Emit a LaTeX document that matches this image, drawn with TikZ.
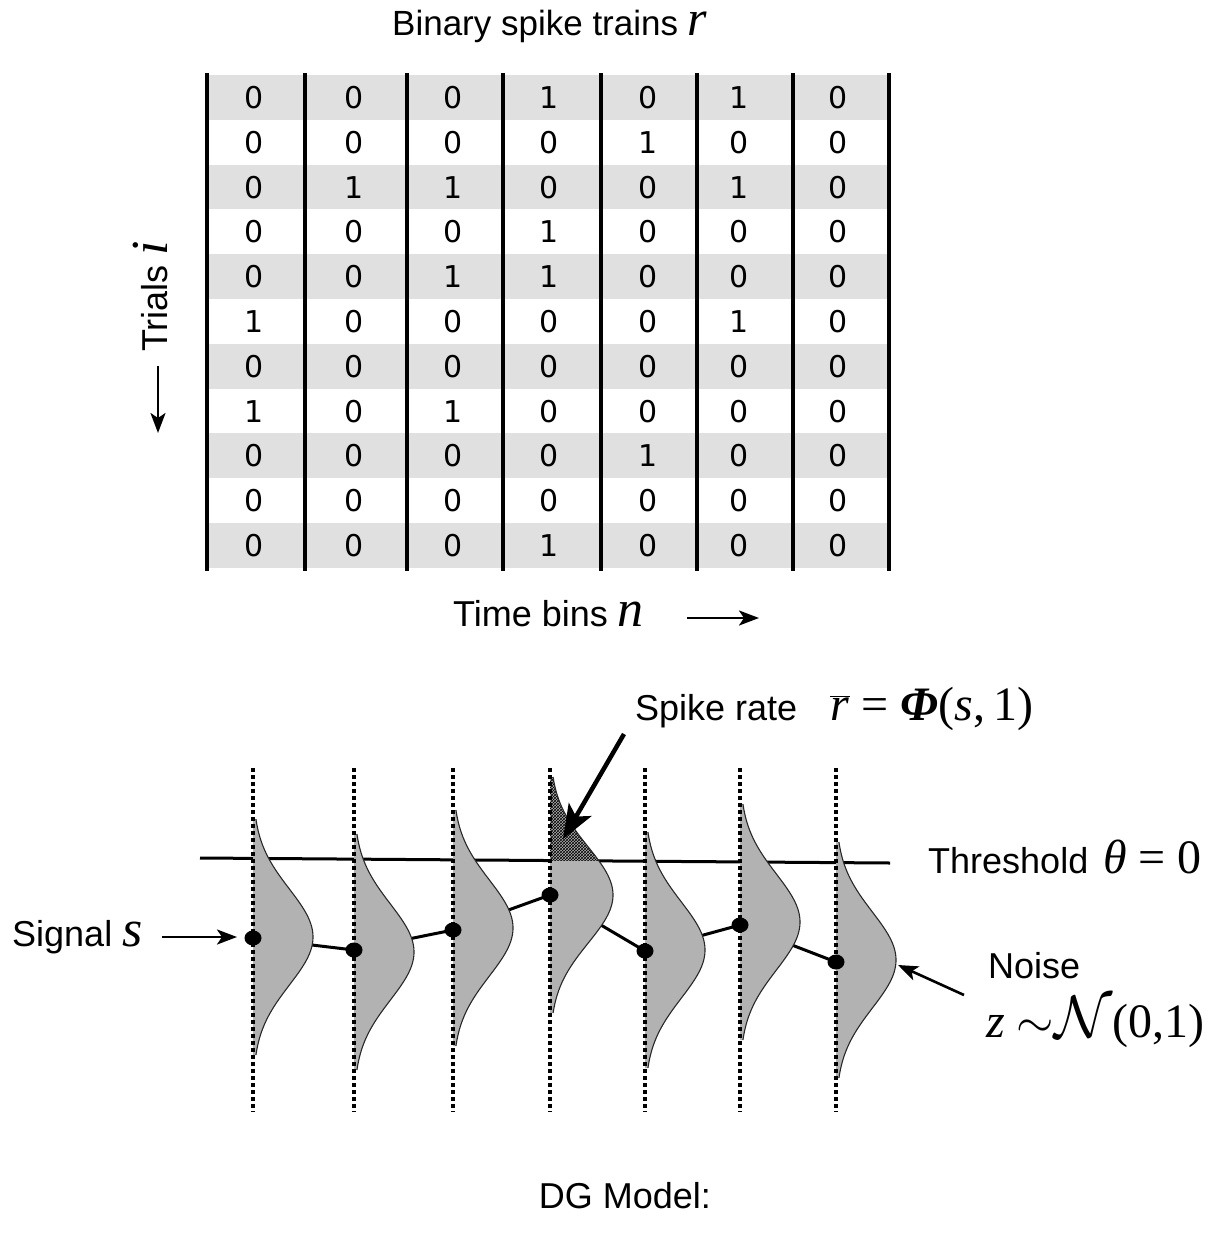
\RequirePackage{fix-cm}
\documentclass[tikz,border=0pt]{standalone}
\usepackage{fontspec}
\setmainfont{Liberation Sans}
\newfontfamily\serif{Liberation Serif}
\newfontfamily\dig{DejaVu Sans}
\usetikzlibrary{patterns,arrows.meta}
\definecolor{rowgray}{RGB}{224,224,224}
\definecolor{gfill}{RGB}{178,178,178}
\definecolor{gline}{RGB}{40,40,40}
\begin{document}
\begin{tikzpicture}[x=1pt,y=-1pt,
  lab/.style={font=\fontsize{36}{42}\selectfont, inner sep=0pt},
  mth/.style={font=\serif\fontsize{48}{54}\selectfont, inner sep=0pt},
  digit/.style={font=\dig\fontsize{30}{34}\selectfont, inner sep=0pt},
  tabline/.style={line width=3.5pt},
  dotline/.style={line width=3.5pt, dash pattern=on 3.5pt off 3.5pt},
  sigline/.style={line width=3pt},
  sigdot/.style={fill=black},
  thr/.style={line width=3pt},
  gcurve/.style={draw=gline, line width=1.1pt},
  arr/.style={line width=2.6pt, -{Stealth[length=20pt,width=15pt,inset=5pt]}},
  bigarr/.style={line width=4.5pt, -{Stealth[length=34pt,width=26pt,inset=8pt]}}]
\useasboundingbox (0,0) rectangle (1227,1239);

% ---------------- table ----------------
\foreach \k in {1,3,5,7,9,11}
  \fill[rowgray] (207,{75+44.8*(\k-1)}) rectangle (889,{75+44.8*\k});
\foreach \row [count=\r] in {{0,0,0,1,0,1,0},{0,0,0,0,1,0,0},{0,1,1,0,0,1,0},{0,0,0,1,0,0,0},{0,0,1,1,0,0,0},{1,0,0,0,0,1,0},{0,0,0,0,0,0,0},{1,0,1,0,0,0,0},{0,0,0,0,1,0,0},{0,0,0,0,0,0,0},{0,0,0,1,0,0,0}}{
  \foreach \v [count=\c] in \row {
    \pgfmathsetmacro\xx{{254,354,453,549,648,739,838}[\c-1]}
    \node[digit] (d\r-\c) at (\xx,{97.5+44.8*(\r-1)}) {\v};
  }
}
\foreach \tx in {207,305,407,503,601,697,793,889}
  \draw[tabline] (\tx,73) -- (\tx,571);

% ---------------- top labels ----------------
\node[lab, anchor=base west, font=\fontsize{35}{40}\selectfont] (title) at (392,36) {Binary spike trains \smash{\serif\itshape\fontsize{50}{52}\selectfont r}};
\node[lab, rotate=90, anchor=base west] (trials) at (167,352) {Trials {\serif\itshape\fontsize{52}{54}\selectfont i}};
\coordinate (ta) at (158,366);
\coordinate (tb) at (158,433);
\draw[arr] (ta) -- (tb);
\node[lab, anchor=base west] (time) at (453,626) {Time bins {\serif\itshape\fontsize{52}{54}\selectfont n}};
\coordinate (na) at (687,618);
\coordinate (nb) at (759,618);
\draw[arr] (na) -- (nb);

% ---------------- DG model ----------------
\draw[thr] (200,858) -- (890,863);
\foreach \px/\py [count=\i] in {253/938,354/950,453/930,550/895,645/951,740/925,836/962}
  \coordinate (s\i) at (\px,\py);
\draw[sigline] (s1) -- (s2) -- (s3) -- (s4) -- (s5) -- (s6) -- (s7);
% gaussians
\foreach \gx/\gc/\ga in {253/937/60,354/952/60,453/928/60,550/895/63,645/950/60,740/922/60,836/960/60}{
  \fill[gfill] (\gx,\gc-118) -- plot[domain=-118:118,samples=90,smooth] ({\gx+\ga*exp(-((\x/48)^2)/2)},{\gc+\x}) -- (\gx,\gc+118) -- cycle;
}
% hatched part above threshold
\begin{scope}
  \clip (545,760) rectangle (640,860.5);
  \fill[pattern=crosshatch, pattern color=black] (550,777) -- plot[domain=-118:118,samples=90,smooth] ({550+63*exp(-((\x/48)^2)/2)},{895+\x}) -- (550,1013) -- cycle;
\end{scope}
\foreach \gx/\gc/\ga in {253/937/60,354/952/60,453/928/60,550/895/63,645/950/60,740/922/60,836/960/60}{
  \draw[gcurve] plot[domain=-118:118,samples=90,smooth] ({\gx+\ga*exp(-((\x/48)^2)/2)},{\gc+\x});
}
% dotted verticals
\foreach \px [count=\i] in {253,354,453,550,645,740,836}{
  \coordinate (vt\i) at (\px,768);
  \coordinate (vb\i) at (\px,1112);
  \draw[dotline] (vt\i) -- (vb\i);
}
% signal dots
\foreach \i in {1,...,7}
  \fill[sigdot] (s\i) ellipse [x radius=8.5pt, y radius=7.5pt];

% labels
\node[lab, anchor=base west] (spike) at (635,720) {Spike rate};
\node[mth, anchor=base west] (rate) at (830,720) {$\overline{\mbox{\itshape r\kern1pt}}$ = {\bfseries\itshape Φ}(\textit{s},\,1)};
\coordinate (sa) at (624,734);
\draw[bigarr] (sa) -- (563,839);

\node[lab, anchor=base west] (thrlab) at (928,873) {Threshold};
\node[mth, anchor=base west] (theta) at (1103,873) {\textit{θ} = 0};

\node[lab, anchor=base west] (signal) at (12,946) {Signal {\serif\itshape\fontsize{52}{54}\selectfont s}};
\coordinate (sga) at (162,937);
\coordinate (sgb) at (237,937);
\draw[arr] (sga) -- (sgb);

\node[lab, anchor=base west] (noise) at (988,978) {Noise};
\node[mth, anchor=base west] (zn) at (986,1037) {\textit{z} $\sim${\fontsize{60}{62}\selectfont$\mathcal{N}$}(0,1)};
\coordinate (nza) at (964,995);
\coordinate (nzb) at (898,965);
\draw[arr] (nza) -- (nzb);

\node[lab, anchor=base] (dg) at (625,1208) {DG Model:};
\end{tikzpicture}
\end{document}
